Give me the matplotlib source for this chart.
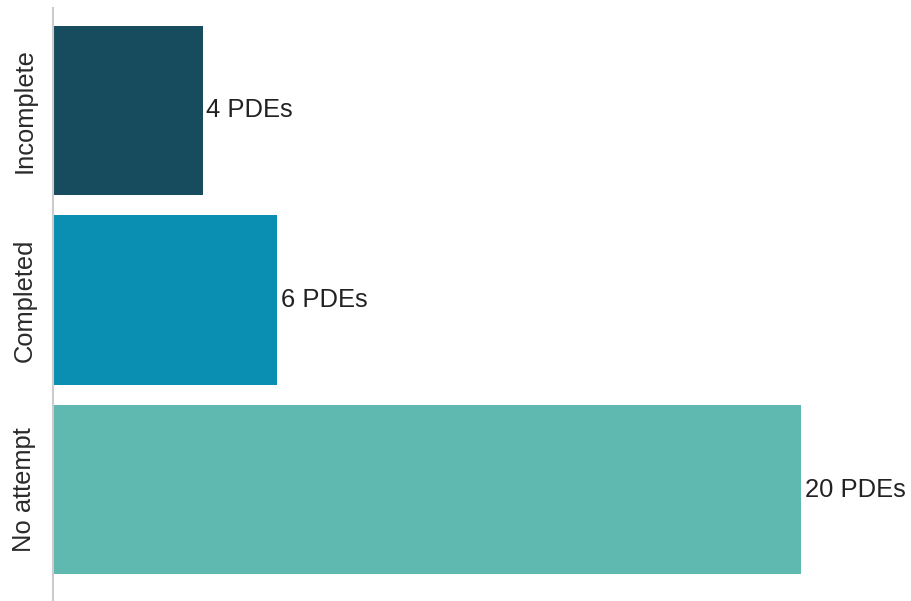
import matplotlib
matplotlib.use("Agg")
import matplotlib.pyplot as plt

plt.rcParams["font.family"] = ["Liberation Sans", "DejaVu Sans"]

categories = ["Incomplete", "Completed", "No attempt"]
counts = [4, 6, 20]
colors = ["#174c5e", "#0a8fb2", "#5fb9b1"]

fig = plt.figure(figsize=(9.11, 6.01), dpi=100)
ax = fig.add_axes([53 / 911, 0, 1 - 53 / 911, 1 - 8 / 601])

pos = list(range(len(categories)))
ax.barh(pos, counts, height=0.895, color=colors)

for y, v in zip(pos, counts):
    ax.text(v + 0.1, y, f"{v} PDEs", va="center", ha="left",
            fontsize=18.4, color="#222222")

ax.set_xlim(0, 858 / 37.4)
ax.set_ylim(2.588, -0.54)
ax.set_yticks(pos)
ax.set_yticklabels(categories, rotation=90, va="center", fontsize=18.4,
                   color="#2a2a2a")
ax.tick_params(axis="y", length=0, pad=12)
ax.set_xticks([])

for side in ["top", "right", "bottom"]:
    ax.spines[side].set_visible(False)
ax.spines["left"].set_color("#cccccc")
ax.spines["left"].set_linewidth(1.5)

fig.savefig("out.png", dpi=100)
